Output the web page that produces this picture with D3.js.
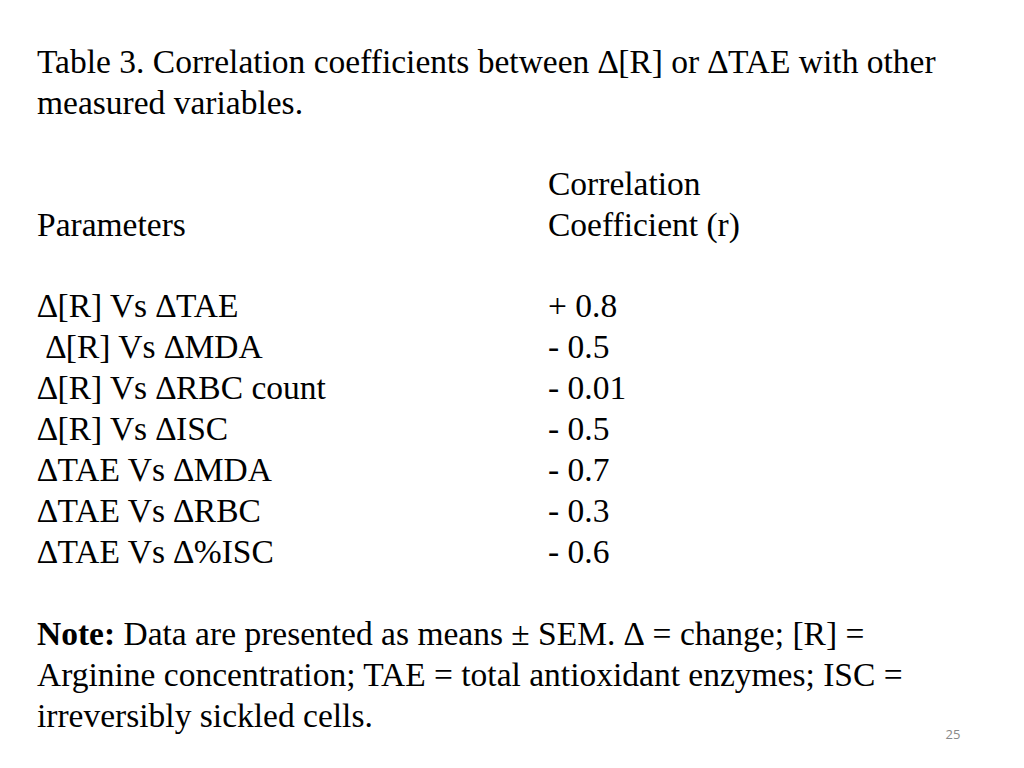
<!DOCTYPE html>
<html><head><meta charset="utf-8">
<script src="https://cdn.jsdelivr.net/npm/d3@7"></script>
<style>body{margin:0;background:#fff}</style></head>
<body><svg id="c" width="1024" height="768"></svg>
<script>
const titleLines = ["Table 3. Correlation coefficients between \u2206[R] or \u2206TAE with other", "measured variables."];
const parameters = ["\u2206[R] Vs \u2206TAE", " \u2206[R] Vs \u2206MDA", "\u2206[R] Vs \u2206RBC count", "\u2206[R] Vs \u2206ISC", "\u2206TAE Vs \u2206MDA", "\u2206TAE Vs \u2206RBC", "\u2206TAE Vs \u2206%ISC"];
const coefficients = ["+ 0.8", "- 0.5", "- 0.01", "- 0.5", "- 0.7", "- 0.3", "- 0.6"];
const noteLines = [" Data are presented as means \u00b1 SEM. \u2206 = change; [R] =", "Arginine concentration; TAE = total antioxidant enzymes; ISC =", "irreversibly sickled cells."];

const svg = d3.select("#c");
const font = "'Liberation Serif','Times New Roman',serif";
const g = svg.append("g").attr("font-family", font).attr("font-size", 33.5).attr("fill", "#000");
const X1 = 37, X2 = 548, LH = 41;
function line(x, y, t){ return g.append("text").attr("x", x).attr("y", y).attr("xml:space","preserve").style("white-space","pre").text(t); }
titleLines.forEach((t,i)=>line(X1, 73 + i*LH, t));
line(X2, 195, "Correlation");
line(X1, 236, "Parameters");
line(X2, 236, "Coefficient (r)");
parameters.forEach((t,i)=>{ line(X1, 317 + i*LH, t); line(X2, 317 + i*LH, coefficients[i]); });
noteLines.forEach((t,i)=>{
  const el = line(X1, 645 + i*LH, "");
  if(i===0){ el.append("tspan").attr("font-weight","bold").text("Note:"); el.append("tspan").text(t); }
  else el.text(t);
});
svg.append("text").attr("x", 953).attr("y", 739).attr("text-anchor","middle")
  .attr("font-family","'Open Sans','DejaVu Sans',sans-serif").attr("font-size", 13).attr("fill","#888").text("25");
</script></body></html>
